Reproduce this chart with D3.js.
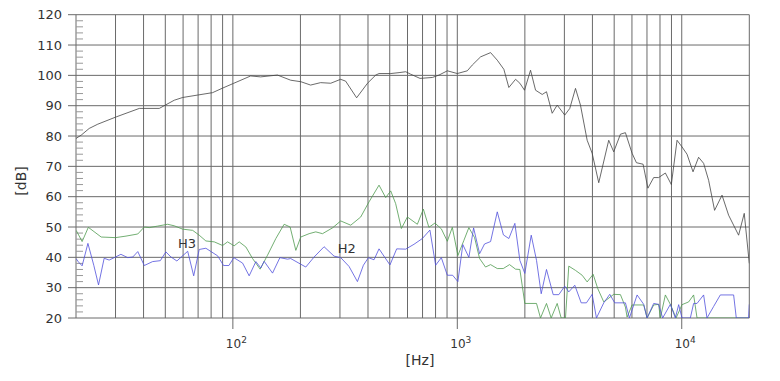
<!DOCTYPE html>
<html>
<head>
<meta charset="utf-8">
<script src="https://cdn.jsdelivr.net/npm/d3@7"></script>
<style>
    body { margin: 0; background: #fff; }
    svg text { font-family: "DejaVu Sans", sans-serif; fill: #333; }
</style>
</head>
<body>
<div id="chart"></div>
<script>
// Frequency response (black) with harmonic distortion H2 (blue) and H3 (green)
// each point is [Hz, dB]
const response = [
    [20, 79.2], [21.1, 80.3], [22.9, 82.5], [25, 83.9], [30.2, 86.3], [38.3, 89.1], [47, 89.1],
    [54.8, 91.8], [59.7, 92.7], [69.6, 93.5], [81.2, 94.3], [90, 95.8], [101, 97.4], [120, 99.8],
    [133, 99.5], [158, 100.1], [181, 98.4], [201, 97.9], [222, 96.8], [246, 97.6], [273, 97.4],
    [302, 98.7], [318, 98.1], [356, 92.6], [398, 97.4], [433, 100.1], [448, 100.6], [505, 100.6],
    [550, 100.9], [589, 101.2], [619, 100.4], [682, 99.0], [774, 99.3], [829, 100.1], [903, 101.5],
    [1000, 100.6], [1108, 101.5], [1166, 103.4], [1270, 106.1], [1407, 107.5], [1507, 105.0],
    [1612, 102.0], [1697, 96.0], [1818, 98.7], [1900, 97.4], [1993, 95.1], [2120, 101.7],
    [2232, 95.1], [2390, 93.7], [2497, 94.6], [2647, 87.5], [2786, 90.2], [3012, 86.9],
    [3171, 89.1], [3362, 95.7], [3538, 90.2], [3790, 78.6], [3989, 74.3], [4268, 64.6],
    [4728, 78.6], [4977, 74.8], [5332, 80.6], [5611, 81.1], [6009, 74.3], [6281, 71.2],
    [6727, 70.7], [7067, 62.8], [7498, 66.3], [7892, 66.3], [8454, 67.8], [8988, 64.0],
    [9530, 78.6], [10030, 76.4], [10558, 74.0], [11227, 68.2], [11889, 73.0], [12517, 71.0],
    [13177, 65.4], [14008, 55.5], [15117, 60.5], [16174, 53.9], [17921, 47.3], [18990, 54.5],
    [20000, 38.0]
];

const h3 = [
    [20, 48.9], [20.2, 48.4], [21.3, 45.2], [22.7, 49.9], [25.9, 46.7], [30, 46.5], [33.4, 47.0],
    [37.7, 47.7], [40.3, 50.0], [42.4, 49.8], [46.2, 50.3], [51.2, 50.9], [54.8, 50.4], [59.7, 49.3],
    [66.2, 48.9], [70.8, 47.3], [75.8, 45.4], [82.6, 45.1], [90, 43.9], [94.7, 45.1], [101.3, 43.8],
    [106.7, 45.1], [114.3, 43.4], [122.4, 39.6], [132.3, 36.1], [142.7, 40.7], [155.4, 46.2],
    [169.2, 50.9], [179.9, 50.0], [190.8, 42.3], [200.7, 46.7], [218.6, 47.8], [234.1, 48.4],
    [250.8, 47.8], [277.8, 49.7], [302.4, 52.0], [335.1, 50.6], [371.2, 53.3], [404.3, 58.3],
    [447.9, 63.8], [479.6, 59.7], [505, 61.9], [531.3, 57.7], [563.4, 49.5], [599.2, 53.3],
    [663.7, 50.9], [705.9, 55.9], [747.2, 49.9], [794.9, 51.3], [848.9, 49.4], [902.6, 45.3],
    [950, 49.9], [1006, 40.6], [1070, 45.6], [1126, 49.8], [1194, 46.5], [1257, 39.6],
    [1336, 36.8], [1407, 37.6], [1507, 36.3], [1602, 36.3], [1709, 37.6], [1818, 36.1],
    [1900, 36.0], [1999, 24.8], [2254, 24.8], [2348, 20], [2497, 24.8], [2620, 20], [2786, 24.8],
    [2903, 20], [3034, 20], [3138, 37.1], [3362, 35.7], [3600, 34.1], [3790, 31.9], [4030, 34.4],
    [4225, 29.7], [4494, 25.3], [4977, 27.8], [5332, 27.7], [5611, 23.6], [5709, 20.3],
    [6009, 24.3], [6770, 24.3], [7009, 20], [7498, 24.3], [7892, 24.5], [8030, 20], [8454, 27.6],
    [8898, 24.5], [9435, 20], [10030, 24.4], [10732, 25.3], [11296, 27.6], [11699, 20],
    [20000, 20]
];

const h2 = [
    [20, 39.6], [20.5, 38.5], [21.3, 37.2], [22.6, 44.6], [24, 37.4], [25.2, 30.9], [26.7, 39.7],
    [28.1, 39.1], [29.6, 39.9], [31.7, 41.0], [34, 39.9], [35.8, 40.1], [37.7, 41.9], [40.3, 37.3],
    [43.9, 38.6], [47.5, 38.9], [50.3, 41.8], [53, 40.1], [56.3, 38.8], [62.9, 42.0], [66.9, 33.9],
    [70.8, 42.6], [75.8, 43.0], [85.5, 40.5], [90.9, 37.3], [96, 37.3], [101, 39.9], [110.5, 38.1],
    [118.2, 33.9], [126.6, 38.6], [133.2, 36.5], [137.8, 38.7], [150.2, 34.8], [162, 39.9],
    [175.2, 39.4], [181, 39.6], [211.3, 36.8], [230.1, 40.1], [254.9, 43.5], [282.4, 40.4],
    [302.4, 39.9], [329.3, 37.0], [358.9, 32.0], [381.6, 37.4], [401.8, 39.9], [425.5, 39.2],
    [447.9, 42.8], [476.2, 39.9], [501.2, 37.5], [536.9, 42.8], [588.8, 42.7], [641.1, 44.3],
    [698.6, 46.2], [755, 49.0], [800.6, 37.4], [848.9, 39.9], [902.6, 34.1], [953, 34.1],
    [1006, 32.0], [1058, 44.2], [1126, 40.0], [1182, 49.7], [1257, 41.2], [1322, 44.4],
    [1407, 45.2], [1507, 55.0], [1605, 47.4], [1697, 46.2], [1805, 51.2], [1900, 39.0],
    [1999, 34.7], [2135, 47.3], [2254, 39.0], [2365, 28.0], [2497, 36.0], [2675, 27.7],
    [2833, 27.7], [3012, 30.5], [3138, 28.6], [3338, 30.8], [3564, 25.0], [3762, 25.0],
    [3989, 27.8], [4169, 20], [4494, 25.0], [4779, 27.8], [5028, 25.0], [5611, 25.0], [5846, 20],
    [6326, 27.6], [6770, 24.5], [7009, 20], [7498, 24.8], [7892, 24.5], [8222, 20], [8898, 24.5],
    [9366, 20], [9689, 24.4], [10030, 20], [10922, 20], [11296, 24.8], [11699, 24.8],
    [12517, 27.6], [12960, 20], [13868, 23.8], [14856, 27.6], [17030, 27.6], [17500, 20],
    [19848, 20], [20000, 24.5]
];

// Axis values
const yTicks = [20, 30, 40, 50, 60, 70, 80, 90, 100, 110, 120];
const xDecades = [2, 3, 4];   // exponents labelled as 10^n
const xGrid = [20, 30, 40, 50, 60, 70, 80, 90, 100, 200, 300, 400, 500, 600, 700, 800, 900,
    1000, 2000, 3000, 4000, 5000, 6000, 7000, 8000, 9000, 10000, 20000];

// Curve labels
const seriesLabels = [
    { text: 'H3', hz: 56.9, db: 43.0 },
    { text: 'H2', hz: 293, db: 41.4 }
];

const W = 780, H = 381;
const plot = { left: 76, right: 749.3, top: 14.7, bottom: 318 };

const svg = d3.select('#chart').append('svg')
    .attr('width', W)
    .attr('height', H);

const x = d3.scaleLog().domain([20, 20000]).range([plot.left, plot.right]);
const y = d3.scaleLinear().domain([20, 120]).range([plot.bottom, plot.top]);

// Function to draw the grid, ticks and tick labels
function drawGrid() {
    const grid = svg.append('g').attr('stroke', '#6a6a6a').attr('stroke-width', 1);

    grid.selectAll('.vline')
        .data(xGrid)
        .enter().append('line')
        .attr('x1', d => x(d)).attr('x2', d => x(d))
        .attr('y1', plot.top).attr('y2', plot.bottom);

    grid.selectAll('.hline')
        .data(yTicks)
        .enter().append('line')
        .attr('x1', plot.left - 8).attr('x2', plot.right)
        .attr('y1', d => y(d)).attr('y2', d => y(d));

    // minor ticks every 2 dB on the left edge
    const minor = d3.range(20, 120, 2).filter(v => v % 10 !== 0);
    svg.append('g').selectAll('line')
        .data(minor)
        .enter().append('line')
        .attr('x1', plot.left).attr('x2', plot.left + 7)
        .attr('y1', d => y(d)).attr('y2', d => y(d))
        .attr('stroke', '#999');

    // decade ticks below the plot
    grid.selectAll('.dtick')
        .data(xDecades)
        .enter().append('line')
        .attr('x1', d => x(Math.pow(10, d))).attr('x2', d => x(Math.pow(10, d)))
        .attr('y1', plot.bottom).attr('y2', plot.bottom + 11);

    svg.append('g').selectAll('text')
        .data(yTicks)
        .enter().append('text')
        .attr('x', plot.left - 14)
        .attr('y', d => y(d))
        .attr('dy', '0.36em')
        .attr('text-anchor', 'end')
        .style('font-size', '13px')
        .text(d => d);

    const xl = svg.append('g').selectAll('text')
        .data(xDecades)
        .enter().append('text')
        .attr('x', d => x(Math.pow(10, d)) - 7)
        .attr('y', 348)
        .style('font-size', '12px');
    xl.append('tspan').text('10');
    xl.append('tspan').attr('dy', -5).style('font-size', '9px').text(d => d);
}

// Function to draw the three curves
function drawCurves() {
    svg.append('clipPath').attr('id', 'plotClip')
        .append('rect')
        .attr('x', plot.left).attr('y', plot.top)
        .attr('width', plot.right - plot.left).attr('height', plot.bottom - plot.top);

    const line = d3.line().x(d => x(d[0])).y(d => y(d[1]));
    const g = svg.append('g').attr('clip-path', 'url(#plotClip)').attr('fill', 'none');

    g.append('path').datum(h3).attr('d', line).attr('stroke', '#4f9a4f').attr('stroke-width', 0.8);
    g.append('path').datum(h2).attr('d', line).attr('stroke', '#5050dc').attr('stroke-width', 0.8);
    g.append('path').datum(response).attr('d', line).attr('stroke', '#444').attr('stroke-width', 0.8);

    svg.append('g').selectAll('text')
        .data(seriesLabels)
        .enter().append('text')
        .attr('x', d => x(d.hz))
        .attr('y', d => y(d.db))
        .style('font-size', '13px')
        .text(d => d.text);
}

// Function to draw axis titles
function drawTitles() {
    svg.append('text')
        .attr('x', 420).attr('y', 365)
        .attr('text-anchor', 'middle')
        .style('font-size', '14px')
        .text('[Hz]');

    svg.append('text')
        .attr('transform', 'translate(26,181) rotate(-90)')
        .attr('text-anchor', 'middle')
        .style('font-size', '14px')
        .text('[dB]');
}

drawGrid();
drawCurves();
drawTitles();
</script>
</body>
</html>
